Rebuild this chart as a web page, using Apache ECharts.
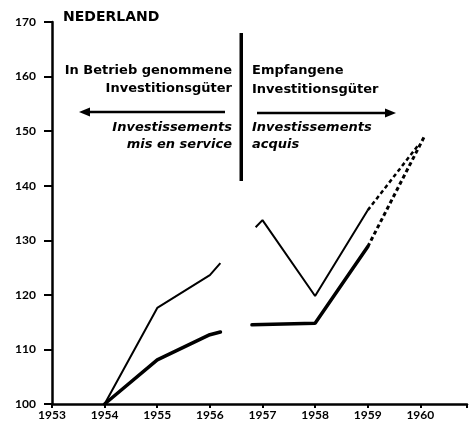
<!DOCTYPE html>
<html><head><meta charset="utf-8">
<script src="https://cdn.jsdelivr.net/npm/echarts@6/dist/echarts.min.js"></script>
<style>html,body{margin:0;padding:0;background:#fff}#c{width:470px;height:434px}</style>
</head><body><div id="c"></div>
<script>
// Tick labels
const yearTicks = [1953, 1954, 1955, 1956, 1957, 1958, 1959, 1960];
const valueTicks = [100, 110, 120, 130, 140, 150, 160, 170];
// Upper (thin) line
const upperA_x = [1954, 1955, 1956, 1956.2];
const upperA_y = [100, 117.6, 123.6, 125.8];
const upperB_x = [1956.87, 1957, 1958, 1959];
const upperB_y = [132.4, 133.7, 119.8, 135.5];
const upperP_x = [1959, 1959.95];
const upperP_y = [135.5, 147.3];
// Lower (thick) line
const lowerA_x = [1954, 1955, 1956, 1956.2];
const lowerA_y = [100, 108.1, 112.7, 113.2];
const lowerB_x = [1956.8, 1958, 1959];
const lowerB_y = [114.5, 114.8, 128.8];
const lowerP_x = [1959, 1960.07];
const lowerP_y = [128.8, 148.9];

const zip = (xs, ys) => xs.map((x, i) => [x, ys[i]]);
const FONT = '"DejaVu Sans"';
const TICKFONT = 'Lato';
const chart = echarts.init(document.getElementById('c'), null, {renderer: 'canvas'});
const thin = {color: '#000', width: 2};
const thick = {color: '#000', width: 3.5, cap: 'round'};
function line(data, ls) {
  return {type: 'line', data: data, symbol: 'none', lineStyle: ls, silent: true, animation: false};
}
const txt = (x, y, s, align, italic, size) => ({
  type: 'text', x: x, y: y,
  style: {text: s, fill: '#000', align: align, verticalAlign: 'middle',
    font: (italic ? 'italic ' : '') + 'bold ' + (size || 13) + 'px ' + FONT}
});
chart.setOption({
  backgroundColor: '#fff',
  animation: false,
  grid: {left: 52, right: 0, top: 22, bottom: 30},
  xAxis: {
    type: 'value', min: 1953, max: 1960.887, interval: 1,
    axisLine: {lineStyle: {color: '#000', width: 2.5}},
    axisTick: {show: true, length: 4, lineStyle: {color: '#000', width: 2}},
    axisLabel: {color: '#000', fontFamily: TICKFONT, fontWeight: 'bold', fontSize: 12, margin: 5,
      formatter: v => yearTicks.includes(Math.round(v)) && Math.abs(v - Math.round(v)) < 1e-6 ? String(Math.round(v)) : ''},
    splitLine: {show: false}, showMaxLabel: false
  },
  yAxis: {
    type: 'value', min: 100, max: 170, interval: 10,
    axisLine: {show: true, lineStyle: {color: '#000', width: 2.5}},
    axisTick: {show: true, length: 8, lineStyle: {color: '#000', width: 2}},
    axisLabel: {color: '#000', fontFamily: TICKFONT, fontWeight: 'bold', fontSize: 12, margin: 16,
      formatter: v => valueTicks.includes(v) ? String(v) : ''},
    splitLine: {show: false}
  },
  series: [
    line(zip(upperA_x, upperA_y), thin),
    line(zip(upperB_x, upperB_y), thin),
    line(zip(upperP_x, upperP_y), {color: '#000', width: 2.5, type: [4, 3]}),
    line(zip(lowerA_x, lowerA_y), thick),
    line(zip(lowerB_x, lowerB_y), thick),
    line(zip(lowerP_x, lowerP_y), {color: '#000', width: 3, type: [4, 3]})
  ],
  graphic: [
    txt(63, 17, 'NEDERLAND', 'left', false, 14),
    txt(232, 71, 'In Betrieb genommene', 'right'),
    txt(232, 89, 'Investitionsgüter', 'right'),
    txt(232, 128, 'Investissements', 'right', true),
    txt(232, 145, 'mis en service', 'right', true),
    txt(252, 71, 'Empfangene', 'left'),
    txt(252, 90, 'Investitionsgüter', 'left'),
    txt(252, 128, 'Investissements', 'left', true),
    txt(252, 145, 'acquis', 'left', true),
    {type: 'rect', shape: {x: 239.5, y: 33, width: 3.5, height: 148}, style: {fill: '#000'}},
    {type: 'line', shape: {x1: 88, y1: 112, x2: 225, y2: 112}, style: {stroke: '#000', lineWidth: 2.5}},
    {type: 'polygon', shape: {points: [[79, 112], [90, 107.5], [90, 116.5]]}, style: {fill: '#000'}},
    {type: 'line', shape: {x1: 257, y1: 113, x2: 388, y2: 113}, style: {stroke: '#000', lineWidth: 2.5}},
    {type: 'polygon', shape: {points: [[396, 113], [385, 108.5], [385, 117.5]]}, style: {fill: '#000'}}
  ]
});
</script></body></html>
